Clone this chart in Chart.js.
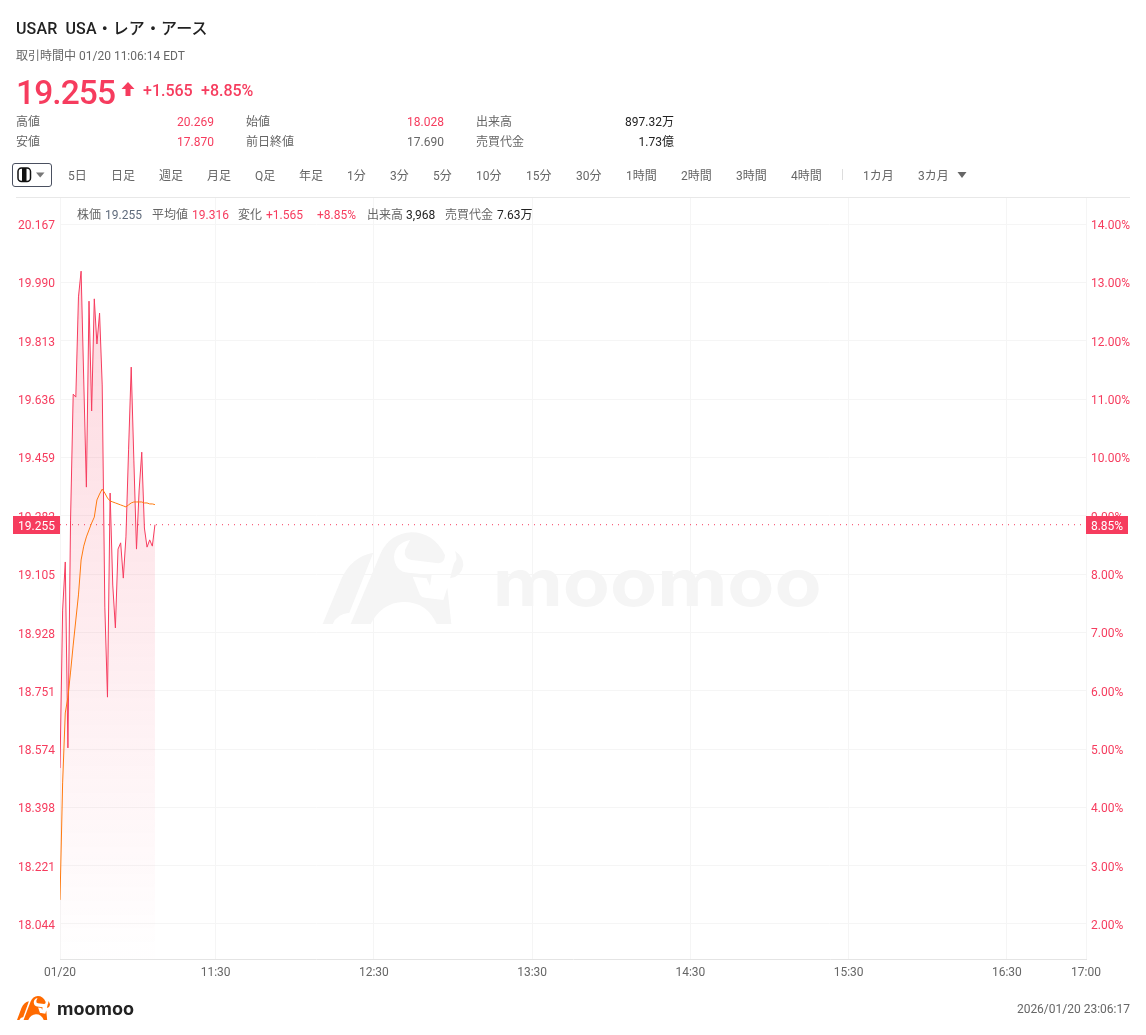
<!DOCTYPE html>
<html lang="ja">
<head>
<meta charset="utf-8">
<title>USAR</title>
<script src="https://cdn.jsdelivr.net/npm/chart.js@4/dist/chart.umd.min.js"></script>
<style>
  html, body { margin: 0; padding: 0; background: #fff; }
  body { position: relative; width: 1146px; height: 1035px; overflow: hidden;
         font-family: Roboto, "Noto Sans CJK JP", sans-serif; font-size: 12px; color: #666; }
  #chart { position: absolute; left: 0; top: 0; z-index: 1; }
  #mark { position: absolute; left: 310px; top: 520px; z-index: 0; }
  .t { position: absolute; z-index: 2; white-space: nowrap; line-height: 16px; transform: translateY(-8px); }
  .r { transform: translate(-100%, -8px); }
  .red { color: #f63c5e; }
  .dark { color: #222; }
  .line { position: absolute; z-index: 2; }
  svg.abs { position: absolute; z-index: 2; }
</style>
</head>
<body>
<svg id="mark" width="520" height="120" viewBox="0 0 1560 360">
  <g fill="#f5f5f5">
    <path id="bull" d="M38,312 L95,175 Q125,110 190,98 L118,278 Q80,282 68,312 Z M122,312 L212,100 Q240,40 305,37 Q370,37 405,105 Q405,128 385,130 L305,120 Q280,115 285,90 L300,60 Q255,70 252,110 Q255,155 295,158 L365,165 L360,198 L350,175 L308,170 L330,225 Q335,233 345,233 L400,240 L412,203 L424,312 L380,312 Q350,245 280,246 Q215,248 182,312 Z M435,93 Q460,110 460,135 Q455,170 420,175 L432,130 Q445,120 435,93 Z"/>
    <text x="548" y="258" font-family="Inter, Roboto, sans-serif" font-weight="700" font-size="195" textLength="987" lengthAdjust="spacingAndGlyphs">moomoo</text>
  </g>
</svg>

<div class="t dark" style="left:16px;top:29px;font-size:16px;font-weight:500;letter-spacing:0.12px">USAR&nbsp; USA・レア・アース</div>
<div class="t" style="left:16px;top:56px">取引時間中 01/20 11:06:14 EDT</div>
<div class="t red" style="left:16px;top:93px;font-size:33.5px;font-weight:500;letter-spacing:-0.9px;line-height:36px;transform:translateY(-18px)">19.255</div>
<svg class="abs" style="left:121px;top:82px" width="14" height="14" viewBox="0 0 14 14"><path d="M7 0 L13.5 7 L9.5 7 L9.5 14 L4.5 14 L4.5 7 L0.5 7 Z" fill="#f63c5e"/></svg>
<div class="t red" style="left:143px;top:91px;font-size:16px;font-weight:500">+1.565</div>
<div class="t red" style="left:201px;top:91px;font-size:16px;font-weight:500">+8.85%</div>

<div class="t" style="left:16px;top:122px">高値</div>
<div class="t r red" style="left:214px;top:122px">20.269</div>
<div class="t" style="left:246px;top:122px">始値</div>
<div class="t r red" style="left:444px;top:122px">18.028</div>
<div class="t" style="left:476px;top:122px">出来高</div>
<div class="t r dark" style="left:674px;top:122px">897.32万</div>
<div class="t" style="left:16px;top:142px">安値</div>
<div class="t r red" style="left:214px;top:142px">17.870</div>
<div class="t" style="left:246px;top:142px">前日終値</div>
<div class="t r" style="left:444px;top:142px">17.690</div>
<div class="t" style="left:476px;top:142px">売買代金</div>
<div class="t r dark" style="left:674px;top:142px">1.73億</div>

<!-- toolbar -->
<svg class="abs" style="left:12px;top:163px" width="40" height="24" viewBox="0 0 40 24">
  <rect x="0.5" y="0.5" width="39" height="23" rx="2.5" fill="#fff" stroke="#4a5060"/>
  <rect x="6" y="5" width="12.5" height="13.5" rx="3.5" fill="#fff" stroke="#111" stroke-width="1.5"/>
  <rect x="10" y="5" width="4.5" height="13.5" fill="#111"/>
  <path d="M24 9.5 L32.5 9.5 L28.2 14.5 Z" fill="#777"/>
</svg>
<div class="t" style="left:68px;top:176px">5日</div>
<div class="t" style="left:111px;top:176px">日足</div>
<div class="t" style="left:159px;top:176px">週足</div>
<div class="t" style="left:207px;top:176px">月足</div>
<div class="t" style="left:255px;top:176px">Q足</div>
<div class="t" style="left:299px;top:176px">年足</div>
<div class="t" style="left:347px;top:176px">1分</div>
<div class="t" style="left:390px;top:176px">3分</div>
<div class="t" style="left:433px;top:176px">5分</div>
<div class="t" style="left:476px;top:176px">10分</div>
<div class="t" style="left:526px;top:176px">15分</div>
<div class="t" style="left:576px;top:176px">30分</div>
<div class="t" style="left:626px;top:176px">1時間</div>
<div class="t" style="left:681px;top:176px">2時間</div>
<div class="t" style="left:736px;top:176px">3時間</div>
<div class="t" style="left:791px;top:176px">4時間</div>
<div class="line" style="left:842px;top:169px;width:1px;height:11px;background:#ddd"></div>
<div class="t" style="left:863px;top:176px">1カ月</div>
<div class="t" style="left:918px;top:176px">3カ月</div>
<svg class="abs" style="left:957px;top:172px" width="10" height="6" viewBox="0 0 10 6"><path d="M0.5 0 L9.5 0 L5 6 Z" fill="#666"/></svg>
<div class="line" style="left:16px;top:197px;width:1114px;height:1px;background:#e8e8e8"></div>

<!-- crosshair legend -->
<div class="t" style="left:77px;top:215px">株価</div>
<div class="t" style="left:105px;top:215px;color:#5f6b7c">19.255</div>
<div class="t" style="left:152px;top:215px">平均値</div>
<div class="t red" style="left:192px;top:215px">19.316</div>
<div class="t" style="left:238px;top:215px">変化</div>
<div class="t red" style="left:266px;top:215px">+1.565</div>
<div class="t red" style="left:317px;top:215px">+8.85%</div>
<div class="t" style="left:367px;top:215px">出来高</div>
<div class="t dark" style="left:406px;top:215px">3,968</div>
<div class="t" style="left:445px;top:215px">売買代金</div>
<div class="t dark" style="left:497px;top:215px">7.63万</div>

<!-- footer -->
<svg class="abs" style="left:17px;top:996px" width="33" height="24" viewBox="38 37 422 275" preserveAspectRatio="none">
  <use href="#bull" fill="#ff6a00"/>
</svg>
<svg class="abs" style="left:57px;top:998px" width="80" height="22">
  <text x="0" y="17" font-family="Inter, Roboto, sans-serif" font-weight="700" font-size="17" fill="#222" textLength="77" lengthAdjust="spacingAndGlyphs">moomoo</text>
</svg>
<div class="t r" style="left:1130px;top:1009px">2026/01/20 23:06:17</div>

<canvas id="chart" width="1146" height="1035"></canvas>

<script>
// minutes after the left edge of the axis, one value per minute so far
const prices = [18.517, 18.996, 19.142, 18.578, 19.269, 19.651, 19.642, 19.946, 20.024, 19.694,
                19.369, 19.933, 19.600, 19.940, 19.803, 19.897, 19.679, 19.005, 18.732, 19.351,
                19.072, 18.942, 19.181, 19.200, 19.093, 19.218, 19.482, 19.733, 19.451, 19.181,
                19.360, 19.475, 19.245, 19.187, 19.209, 19.190, 19.255];
const averages = [18.117, 18.472, 18.684, 18.732, 18.808, 18.890, 18.966, 19.042, 19.148, 19.190,
                  19.218, 19.239, 19.260, 19.278, 19.330, 19.348, 19.363, 19.351, 19.336, 19.327,
                  19.324, 19.321, 19.318, 19.315, 19.312, 19.309, 19.315, 19.321, 19.324, 19.324,
                  19.324, 19.324, 19.321, 19.321, 19.318, 19.318, 19.316];
const priceTicks = [20.167, 19.990, 19.813, 19.636, 19.459, 19.282, 19.105, 18.928, 18.751, 18.574, 18.398, 18.221, 18.044];
const percentTicks = [14, 13, 12, 11, 10, 9, 8, 7, 6, 5, 4, 3, 2];
const timeTicks = [0, 59, 119, 179, 239, 299, 359, 389];
const timeLabels = ['01/20', '11:30', '12:30', '13:30', '14:30', '15:30', '16:30', '17:00'];
const lastPrice = 19.255;
const lastPercent = '8.85%';
const prevClose = 17.690;

const RED = '#f63c5e';
const ORANGE = '#ff7a0f';
const GRID = '#f5f5f5';

const yMin = 17.9378, yMax = 20.2459;

Chart.defaults.font.family = 'Roboto, "Noto Sans CJK JP", sans-serif';
Chart.defaults.font.size = 12;

function toPoints(values) {
    return values.map((v, i) => ({ x: i, y: v }));
}

// pink area under the price line, fading out towards the bottom
function areaFill(context) {
    const chart = context.chart;
    if (!chart.chartArea) return 'rgba(246,60,94,0.1)';
    const top = chart.scales.y.getPixelForValue(Math.max(...prices));
    const g = chart.ctx.createLinearGradient(0, top, 0, chart.scales.y.getPixelForValue(17.97));
    g.addColorStop(0, 'rgba(246,60,94,0.2)');
    g.addColorStop(1, 'rgba(246,60,94,0.005)');
    return g;
}

// red tags with the last price on both axes
const lastTags = {
    id: 'lastTags',
    afterDraw(chart) {
        const ctx = chart.ctx;
        const y = Math.round(chart.scales.y.getPixelForValue(lastPrice));
        const area = chart.chartArea;
        ctx.save();
        ctx.fillStyle = RED;
        ctx.fillRect(13, y - 9, area.left - 13, 18);
        ctx.fillRect(area.right, y - 9, 42, 18);
        ctx.fillStyle = '#fff';
        ctx.textAlign = 'center';
        ctx.textBaseline = 'middle';
        ctx.font = '12px Roboto';
        ctx.fillText(lastPrice.toFixed(3), (13 + area.left) / 2, y + 2);
        ctx.fillText(lastPercent, area.right + 21, y + 2);
        ctx.restore();
    }
};

// the labels sit 2px under their grid line: an empty first line pushes them down
const tickFont = { lineHeight: '4px' };

new Chart(document.getElementById('chart'), {
    type: 'line',
    data: {
        datasets: [
            {
                label: '平均値',
                data: toPoints(averages),
                borderColor: ORANGE,
                borderWidth: 1,
                pointRadius: 0,
                tension: 0,
                fill: false
            },
            {
                label: '株価',
                data: toPoints(prices),
                borderColor: RED,
                borderWidth: 1,
                pointRadius: 0,
                tension: 0,
                fill: 'start',
                backgroundColor: areaFill
            },
            {
                label: 'last',
                data: [{ x: 0, y: lastPrice }, { x: timeTicks[timeTicks.length - 1], y: lastPrice }],
                borderColor: RED,
                borderWidth: 1,
                borderDash: [1, 5],
                pointRadius: 0,
                fill: false
            }
        ]
    },
    options: {
        responsive: false,
        animation: false,
        events: [],
        layout: { padding: { left: 0, right: 0, top: 198, bottom: 0 } },
        plugins: { legend: { display: false }, tooltip: { enabled: false } },
        scales: {
            x: {
                type: 'linear',
                min: 0,
                max: 389,
                afterBuildTicks(scale) { scale.ticks = timeTicks.map(v => ({ value: v })); },
                afterFit(scale) { scale.height = 76; },
                grid: { color: GRID, tickLength: 0, drawTicks: false },
                border: { color: '#e4e4e4' },
                ticks: {
                    color: '#666',
                    padding: 7,
                    maxRotation: 0,
                    autoSkip: false,
                    callback(value) { return timeLabels[timeTicks.indexOf(value)]; }
                }
            },
            y: {
                position: 'left',
                min: yMin,
                max: yMax,
                afterBuildTicks(scale) { scale.ticks = priceTicks.map(v => ({ value: v })); },
                afterFit(scale) { scale.width = 60; },
                grid: { color: GRID, drawTicks: false },
                border: { display: false },
                ticks: {
                    color: RED,
                    padding: 5,
                    autoSkip: false,
                    font: tickFont,
                    callback(value) { return ['', value.toFixed(3)]; }
                }
            },
            pct: {
                position: 'right',
                min: (yMin - prevClose) / prevClose * 100,
                max: (yMax - prevClose) / prevClose * 100,
                afterBuildTicks(scale) { scale.ticks = percentTicks.map(v => ({ value: v })); },
                afterFit(scale) { scale.width = 60; },
                grid: { display: false, drawTicks: false },
                border: { display: false },
                ticks: {
                    color: RED,
                    padding: 5,
                    autoSkip: false,
                    font: tickFont,
                    callback(value) { return ['', value.toFixed(2) + '%']; }
                }
            }
        }
    },
    plugins: [lastTags]
});
</script>
</body>
</html>
